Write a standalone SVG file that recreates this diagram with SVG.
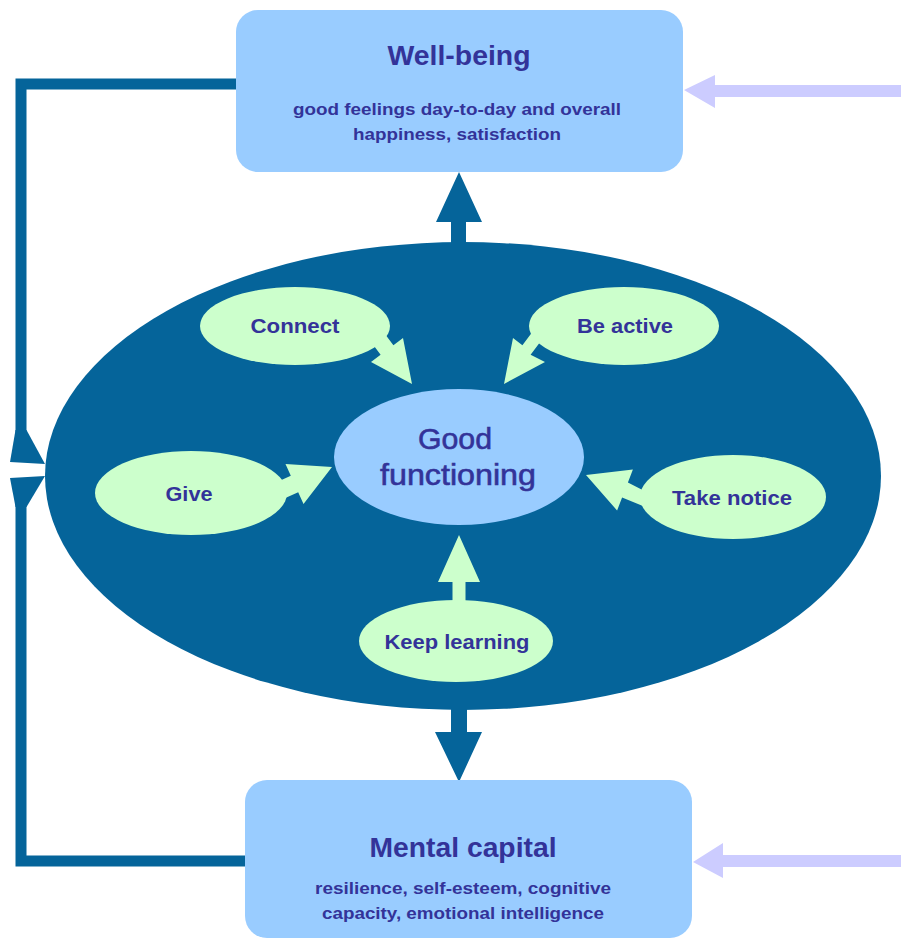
<svg xmlns="http://www.w3.org/2000/svg" width="901" height="940" viewBox="0 0 901 940">
  <style>
    .box { fill: #99ccff; }
    .core { fill: #05649a; }
    .leaf { fill: #ccffcc; }
    .hub { fill: #99ccff; }
    .dark { fill: #05649a; }
    .lilac { fill: #ccccff; }
    .wire { fill: none; stroke: #05649a; stroke-width: 11; stroke-linejoin: miter; }
    text { font-family: "Liberation Sans", Arial, sans-serif; fill: #333399; text-anchor: middle; }
    .title { font-size: 28px; font-weight: bold; }
    .sub { font-size: 17px; font-weight: bold; }
    .leafText { font-size: 21px; font-weight: bold; }
    .hubText { font-size: 30px; stroke: #333399; stroke-width: 0.6; }
  </style>

  <rect width="901" height="940" fill="#ffffff"/>

  <!-- big dark ellipse holding the five ways -->
  <g id="core">
    <ellipse class="core" cx="463" cy="476" rx="418" ry="234"/>
  </g>

  <g id="connectors">
    <!-- loop from Well-being down the left side -->
    <path class="wire" d="M236,84 H21 V434"/>
    <polygon class="dark" points="15.5,430 10,462 45,464 26.5,430"/>
    <!-- loop from Mental capital up the left side -->
    <path class="wire" d="M245,861 H21 V502"/>
    <polygon class="dark" points="10,478 45,476 26.5,507 15.5,507"/>

    <!-- core to Well-being -->
    <polygon class="dark" points="451,252 451,222 436,222 459,172 482,222 466,222 466,252"/>
    <!-- core to Mental capital -->
    <polygon class="dark" points="451,700 451,732 435,732 459,782 482,732 467,732 467,700"/>

    <!-- outside inputs -->
    <polygon class="lilac" points="901,85 715,85 715,75 684,90 715,108 715,97 901,97"/>
    <polygon class="lilac" points="901,855 723,855 723,843 693,862 723,878 723,867 901,867"/>
  </g>

  <g id="wellbeing">
    <rect class="box" x="236" y="10" width="447" height="162" rx="22"/>
    <text class="title" x="459" y="65" textLength="143" lengthAdjust="spacingAndGlyphs">Well-being</text>
    <text class="sub" x="457" y="115" textLength="328" lengthAdjust="spacingAndGlyphs">good feelings day-to-day and overall</text>
    <text class="sub" x="457" y="140" textLength="208" lengthAdjust="spacingAndGlyphs">happiness, satisfaction</text>
  </g>

  <g id="mental-capital">
    <rect class="box" x="245" y="780" width="447" height="158" rx="22"/>
    <text class="title" x="463" y="857" textLength="187" lengthAdjust="spacingAndGlyphs">Mental capital</text>
    <text class="sub" x="463" y="894" textLength="296" lengthAdjust="spacingAndGlyphs">resilience, self-esteem, cognitive</text>
    <text class="sub" x="463" y="919" textLength="282" lengthAdjust="spacingAndGlyphs">capacity, emotional intelligence</text>
  </g>

  <!-- block arrows feeding the centre -->
  <g id="way-arrows">
    <polygon class="leaf" points="369.4,313.2 393.4,345.2 403,338 412,384 371,362 380.6,354.8 356.6,322.8"/>
    <polygon class="leaf" points="554.6,322.8 530.6,354.8 545,362 504,384 513,338 522.4,345.2 546.4,313.2"/>
    <polygon class="leaf" points="254.4,492.2 290.8,475.8 285.5,464 332,467 303.5,504 298.2,492.2 261.8,508.6"/>
    <polygon class="leaf" points="666,502 627.9,482.6 632.9,469.5 586,475 617.1,510.5 622.1,497.4 660,513"/>
    <polygon class="leaf" points="452.5,612 452.5,582 438,582 459,535 480,582 465.5,582 465.5,612"/>
  </g>

  <g id="connect">
    <ellipse class="leaf" cx="295" cy="326" rx="95" ry="39"/>
    <text class="leafText" x="295" y="333" textLength="89" lengthAdjust="spacingAndGlyphs">Connect</text>
  </g>

  <g id="be-active">
    <ellipse class="leaf" cx="624" cy="326" rx="95" ry="39"/>
    <text class="leafText" x="625" y="333" textLength="96" lengthAdjust="spacingAndGlyphs">Be active</text>
  </g>

  <g id="give">
    <ellipse class="leaf" cx="191" cy="493" rx="96" ry="42"/>
    <text class="leafText" x="189" y="501" textLength="47" lengthAdjust="spacingAndGlyphs">Give</text>
  </g>

  <g id="take-notice">
    <ellipse class="leaf" cx="733" cy="497" rx="93" ry="42"/>
    <text class="leafText" x="732" y="505" textLength="120" lengthAdjust="spacingAndGlyphs">Take notice</text>
  </g>

  <g id="keep-learning">
    <ellipse class="leaf" cx="456" cy="641" rx="97" ry="41"/>
    <text class="leafText" x="457" y="649" textLength="145" lengthAdjust="spacingAndGlyphs">Keep learning</text>
  </g>

  <g id="good-functioning">
    <ellipse class="hub" cx="459" cy="457" rx="125" ry="68"/>
    <text class="hubText" x="455" y="449" textLength="74" lengthAdjust="spacingAndGlyphs">Good</text>
    <text class="hubText" x="458" y="485" textLength="156" lengthAdjust="spacingAndGlyphs">functioning</text>
  </g>
</svg>
